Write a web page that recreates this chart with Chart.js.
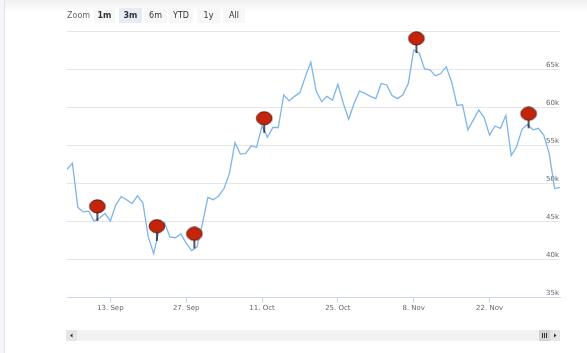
<!DOCTYPE html>
<html>
<head>
<meta charset="utf-8">
<script src="https://cdn.jsdelivr.net/npm/chart.js@4.4.0/dist/chart.umd.min.js"></script>
<style>
  html, body { margin: 0; padding: 0; background: #fff; }
  canvas { display: block; }
</style>
</head>
<body>
<canvas id="chart" width="587" height="353"></canvas>
<script>
// ===== data (daily closes from 5 Sep, in thousands) =====
const prices = [
  51.8, 52.6, 46.8, 46.2, 46.3, 45.0, 45.4, 46.0, 45.0, 47.1,
  48.2, 47.8, 47.3, 48.3, 47.4, 42.9, 40.7, 43.8, 44.8, 42.9,
  42.8, 43.3, 42.1, 41.1, 41.6, 44.7, 48.1, 47.8, 48.3, 49.3,
  51.3, 55.3, 53.8, 53.9, 54.9, 54.7, 57.5, 56.0, 57.3, 57.3,
  61.6, 60.8, 61.4, 61.9, 64.0, 65.9, 62.1, 60.7, 61.4, 60.9,
  63.0, 60.5, 58.4, 60.5, 62.1, 61.8, 61.4, 61.1, 63.1, 62.9,
  61.5, 61.1, 61.6, 63.1, 67.5, 67.1, 65.0, 64.9, 64.1, 64.4,
  65.3, 63.3, 60.2, 60.3, 57.0, 58.3, 59.6, 58.6, 56.3, 57.5,
  57.2, 58.9, 53.6, 54.8, 57.1, 57.7, 57.0, 57.2, 56.3, 53.9,
  49.3, 49.4
];
const tickDays = [8, 22, 36, 50, 64, 78];
const tickLabels = ["13. Sep", "27. Sep", "11. Oct", "25. Oct", "8. Nov", "22. Nov"];
const flagDays = [5.6, 16.6, 23.5, 36.4, 64.5, 85.2];
const flagValues = [45.0, 42.4, 41.4, 56.6, 67.1, 57.2];
const zoomButtons = ["1m", "3m", "6m", "YTD", "1y", "All"];

const FONT = "'DejaVu Sans', Verdana, sans-serif";

// pin marker used for the flags
function makePin() {
  const c = document.createElement("canvas");
  c.width = 20; c.height = 44;
  const g = c.getContext("2d");
  g.strokeStyle = "#000";
  g.lineWidth = 1.3;
  g.beginPath(); g.moveTo(10, 22); g.lineTo(10, 12); g.stroke();
  g.beginPath();
  g.ellipse(10, 7.4, 7.8, 6.6, 0, 0, Math.PI * 2);
  g.fillStyle = "#c4240a";
  g.fill();
  g.lineWidth = 0.8;
  g.strokeStyle = "#3b0b02";
  g.stroke();
  return c;
}

// zoom buttons, scrollbar and page frame (not data)
const decorations = {
  id: "decorations",
  beforeDraw(chart) {
    const ctx = chart.ctx;
    const area = chart.chartArea;
    ctx.save();
    const grad = ctx.createLinearGradient(0, 0, 0, 12);
    grad.addColorStop(0, "rgba(0,0,0,0.06)");
    grad.addColorStop(1, "rgba(0,0,0,0)");
    ctx.fillStyle = grad;
    ctx.fillRect(0, 0, chart.width, 12);
    ctx.fillStyle = "#f4f6fa";
    ctx.fillRect(0, 0, 4, chart.height);
    ctx.fillStyle = "#dde4ee";
    ctx.fillRect(4, 0, 1, chart.height);

    // range selector
    ctx.font = "8px " + FONT;
    ctx.textBaseline = "middle";
    ctx.fillStyle = "#666";
    ctx.textAlign = "left";
    ctx.fillText("Zoom", area.left, 15.5);
    const xs = [94, 119, 144, 169, 197, 223];
    const ws = [21, 23, 23, 24, 23, 22];
    zoomButtons.forEach((b, i) => {
      ctx.fillStyle = i === 1 ? "#e6ebf5" : "#f7f7f7";
      ctx.fillRect(xs[i], 8, ws[i], 15);
      ctx.fillStyle = "#333";
      ctx.font = (i <= 1 ? "bold " : "") + "8px " + FONT;
      ctx.textAlign = "center";
      ctx.fillText(b, xs[i] + ws[i] / 2, 15.5);
    });

    // scrollbar
    const sy = 330, sh = 11;
    ctx.fillStyle = "#f2f2f2";
    ctx.fillRect(area.left - 1, sy, area.right - area.left + 1, sh);
    ctx.fillStyle = "#e6e6e6";
    ctx.fillRect(area.left - 1, sy, 11, sh);
    ctx.fillRect(area.right - 10, sy, 10, sh);
    ctx.fillStyle = "#d4d4d4";
    ctx.fillRect(area.right - 21, sy, 11, sh);
    ctx.fillStyle = "#333";
    ctx.beginPath();
    ctx.moveTo(area.left + 3, sy + 5.5); ctx.lineTo(area.left + 5.5, sy + 3.5); ctx.lineTo(area.left + 5.5, sy + 7.5);
    ctx.fill();
    ctx.beginPath();
    ctx.moveTo(area.right - 3.5, sy + 5.5); ctx.lineTo(area.right - 6, sy + 3.5); ctx.lineTo(area.right - 6, sy + 7.5);
    ctx.fill();
    for (let k = 0; k < 3; k++) ctx.fillRect(area.right - 18 + k * 2, sy + 3, 1, 5);
    ctx.restore();
  },
};

new Chart(document.getElementById("chart"), {
  type: "line",
  data: {
    datasets: [
      {
        data: prices.map((v, i) => ({ x: i, y: v })),
        borderColor: "#7cb5ec",
        borderWidth: 1.3,
        pointRadius: 0,
        tension: 0,
        fill: false,
        order: 2,
      },
      {
        data: flagDays.map((d, i) => ({ x: d, y: flagValues[i] })),
        showLine: false,
        pointStyle: makePin(),
        pointRadius: 5,
        order: 1,
      },
    ],
  },
  options: {
    responsive: false,
    animation: false,
    events: [],
    layout: { padding: { left: 67, right: 27, top: 31, bottom: 36 } },
    plugins: { legend: { display: false }, tooltip: { enabled: false } },
    scales: {
      x: {
        type: "linear",
        min: 0,
        max: 91,
        afterBuildTicks: s => { s.ticks = tickDays.map(v => ({ value: v })); },
        afterFit: s => { s.height = 20; },
        ticks: {
          autoSkip: false,
          maxRotation: 0,
          padding: 1,
          color: "#666",
          font: { size: 7, family: FONT },
          callback: v => tickLabels[tickDays.indexOf(v)] ?? "",
        },
        grid: { drawOnChartArea: false, drawTicks: true, tickLength: 6, color: "#ccd6eb" },
        border: { color: "#ccd6eb" },
      },
      y: {
        position: "right",
        min: 35,
        max: 70,
        afterFit: s => { s.width = 0; },
        ticks: {
          stepSize: 5,
          mirror: true,
          padding: -1,
          labelOffset: -4,
          color: "#666",
          font: { size: 7, family: FONT },
          callback: v => (v === 70 ? "" : v + "k"),
        },
        grid: { color: "#e6e6e6", drawTicks: false },
        border: { display: false },
      },
    },
  },
  plugins: [decorations],
});
</script>
</body>
</html>
